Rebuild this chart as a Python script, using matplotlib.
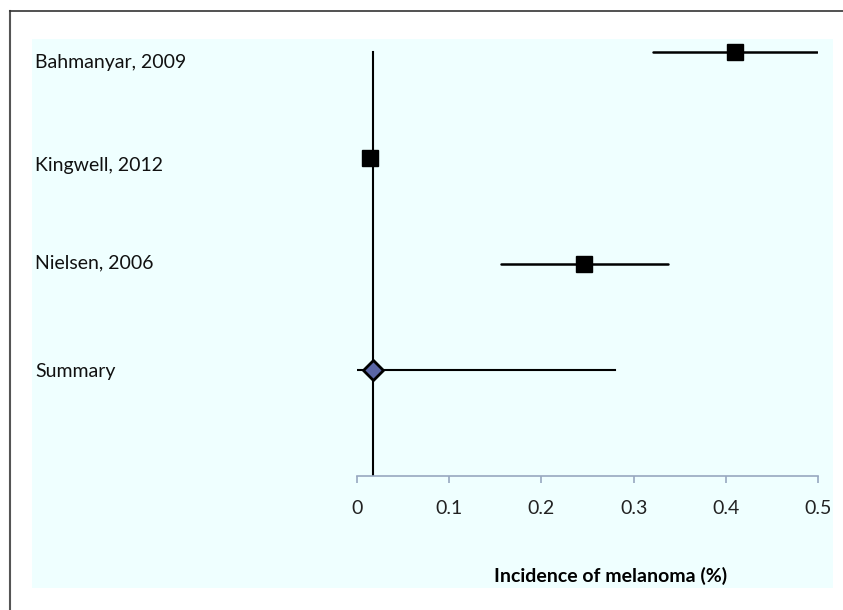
import numpy as np
import matplotlib.pyplot as plt
from matplotlib.patches import Rectangle

# forest plot data
studies = ['Bahmanyar, 2009', 'Kingwell, 2012', 'Nielsen, 2006']
est = [0.41, 0.0145, 0.246]
lo = [0.321, 0.0145, 0.156]
hi = [0.499, 0.0145, 0.337]
summary_label = 'Summary'
summary_est = 0.017
summary_lo = 0.0
summary_hi = 0.28
xticks = [0, 0.1, 0.2, 0.3, 0.4, 0.5]
xticklabels = ['0', '0.1', '0.2', '0.3', '0.4', '0.5']

W, H = 843, 610
fig = plt.figure(figsize=(W / 100, H / 100), dpi=100)
plt.rcParams['font.family'] = ['Lato', 'DejaVu Sans']

# outer frame (only left/top visible) and cyan plot area
fig.add_artist(plt.Line2D([10 / W, 10 / W], [0, 1 - 11 / H], color='#555555', lw=1.5))
fig.add_artist(plt.Line2D([10 / W, 1], [1 - 11 / H, 1 - 11 / H], color='#333333', lw=1.2))
fig.add_artist(Rectangle((32 / W, 1 - 588 / H), (833 - 32) / W, (588 - 39) / H,
                         facecolor='#EFFFFF', edgecolor='none', zorder=0))

# axes: x=0 at px 357, x=0.5 at px 818; y=0 at px 476, 1 unit = 106 px
ax = fig.add_axes([357 / W, 1 - 476 / H, (818 - 357) / W, (476 - 39) / H])
ax.set_facecolor('none')
ax.set_xlim(0, 0.5)
ax.set_ylim(0, (476 - 39) / 106)

ypos = np.arange(len(studies) + 1, 1, -1)
ax.plot([summary_est, summary_est], [0, 4], color='black', lw=1.5, zorder=2)

for y, e, l, h in zip(ypos, est, lo, hi):
    ax.plot([l, h], [y, y], color='black', lw=1.8, solid_capstyle='round', zorder=3)
    ax.plot(e, y, marker='s', ms=12, color='black', zorder=4, clip_on=False)

ax.plot([summary_lo, summary_hi], [1, 1], color='black', lw=1.5, zorder=3)
ax.plot(summary_est, 1, marker='D', ms=10.5, markerfacecolor='#5A66A6',
        markeredgecolor='black', markeredgewidth=2, zorder=4)

# row labels at the left edge of the plot area (baselines sit a bit off the rows)
labels = studies + [summary_label]
label_shift = [-0.15, -0.12, -0.04, -0.07]
for y, lab, dy in zip(list(ypos) + [1], labels, label_shift):
    ax.annotate(lab, xy=(35 / W, y + dy), xycoords=('figure fraction', 'data'),
                fontsize=14, va='baseline', ha='left', color='#111111')

for s in ['top', 'right', 'left']:
    ax.spines[s].set_visible(False)
ax.spines['bottom'].set_color('#98A8C0')
ax.spines['bottom'].set_linewidth(1.2)
ax.set_yticks([])
ax.set_xticks(xticks)
ax.set_xticklabels(xticklabels, fontsize=14, color='#222222')
ax.tick_params(axis='x', direction='out', length=5, color='#98A8C0', width=1.2, pad=12)

ax.set_xlabel('Incidence of melanoma (%)', fontsize=14, fontweight='bold', va='center')
ax.xaxis.set_label_coords((611 - 357) / 461, (476 - 576) / 437)

fig.savefig('out.png', dpi=100)
